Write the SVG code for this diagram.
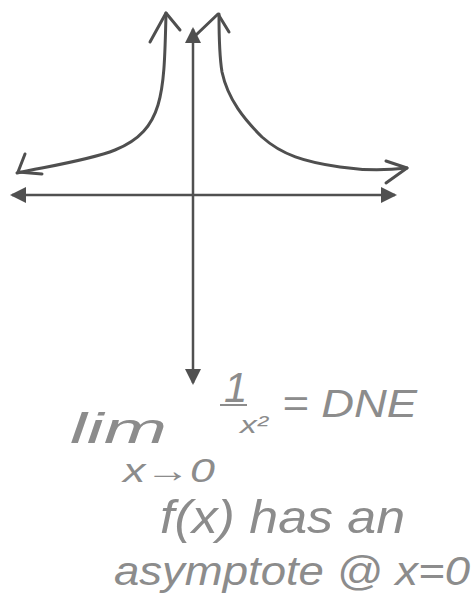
<svg xmlns="http://www.w3.org/2000/svg" width="472" height="607" viewBox="0 0 472 607">
  <style>
    .axis { stroke: #505050; stroke-width: 2.5; fill: none; }
    .curve { stroke: #4f4f4f; stroke-width: 3; fill: none; stroke-linecap: round; stroke-linejoin: round; }
    .hand { fill: #8c8c8c; font-family: "Liberation Sans", "DejaVu Sans", sans-serif; font-style: italic; }
  </style>
  <defs>
    <marker id="tri" viewBox="0 0 16 16" refX="14" refY="8" markerWidth="16" markerHeight="16" markerUnits="userSpaceOnUse" orient="auto-start-reverse">
      <path d="M0,0 L16,8 L0,16 z" fill="#505050"/>
    </marker>
  </defs>
  <rect width="472" height="607" fill="#ffffff"/>
  <g id="axes">
    <line class="axis" x1="12" y1="195" x2="395" y2="195" marker-start="url(#tri)" marker-end="url(#tri)"/>
    <line class="axis" x1="193" y1="29" x2="193" y2="383" marker-start="url(#tri)" marker-end="url(#tri)"/>
  </g>
  <g id="curve-left">
    <path class="curve" d="M17,173 C50,166 90,160 115,150 C140,140 152,125 158,105 C164,85 165,60 166,13"/>
    <path class="curve" d="M150,42 L166,13 L180,30"/>
    <path class="curve" d="M25,154 L18,172 L42,174"/>
  </g>
  <g id="curve-right">
    <path class="curve" d="M219,14 C219,40 220,60 222,72 C228,100 245,120 262,137 C282,155 305,162 340,167 C360,170 380,171 407,168"/>
    <path class="curve" d="M196,35 L218,14 L229,32"/>
    <path class="curve" d="M386,161 L407,168 L386,183"/>
  </g>
  <g id="notes">
    <text class="hand" x="70" y="443" font-size="42" textLength="97" lengthAdjust="spacingAndGlyphs">lim</text>
    <text class="hand" x="123" y="482" font-size="34" textLength="92" lengthAdjust="spacingAndGlyphs">x→0</text>
    <text class="hand" x="224" y="402" font-size="42">1</text>
    <line x1="220" y1="405" x2="247" y2="405" stroke="#8c8c8c" stroke-width="2"/>
    <text class="hand" x="240" y="433" font-size="24" textLength="28" lengthAdjust="spacingAndGlyphs">x²</text>
    <text class="hand" x="282" y="417" font-size="38" textLength="135" lengthAdjust="spacingAndGlyphs">= DNE</text>
    <text class="hand" x="160" y="533" font-size="46" textLength="245" lengthAdjust="spacingAndGlyphs">f(x) has an</text>
    <text class="hand" x="114" y="585" font-size="40" textLength="356" lengthAdjust="spacingAndGlyphs">asymptote @ x=0</text>
  </g>
</svg>
